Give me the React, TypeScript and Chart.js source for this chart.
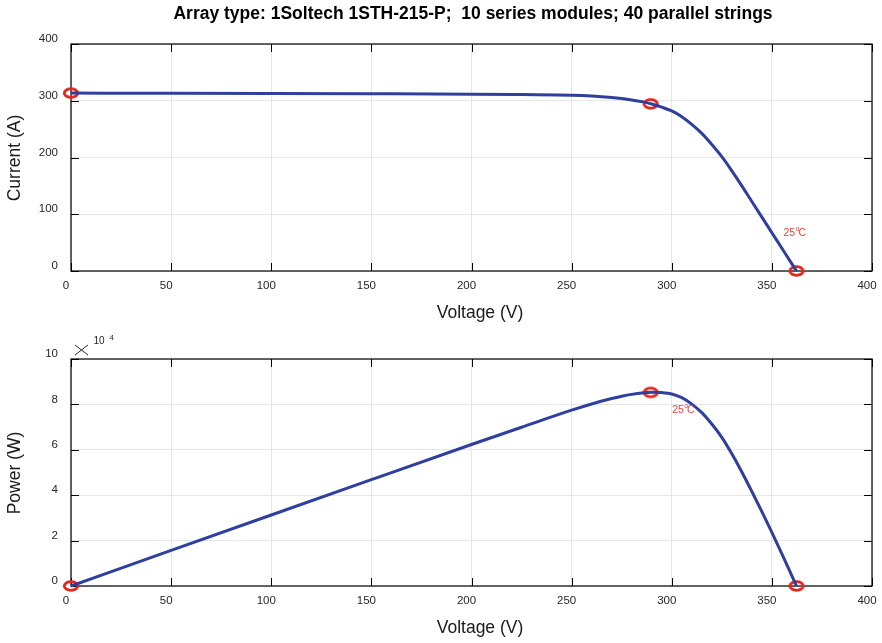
import React, { useEffect, useRef } from 'react';
import { Chart, registerables } from 'chart.js';
Chart.register(...registerables);

// ---- data ----
const voltage = [0, 50, 100, 150, 200, 225, 250, 260, 270, 275, 280, 285, 290, 295, 300, 305, 310, 315, 320, 325, 330, 335, 340, 345, 350, 355, 360, 362.3];
const current = [313.5, 313.2, 312.8, 312.3, 311.6, 310.8, 309.8, 308.4, 305.8, 303.9, 301.5, 298.5, 294.3, 288.8, 282, 272, 258.5, 242.5, 223, 201.5, 176.5, 150, 122.5, 95, 67.5, 40, 12.5, 0];
const power = [0, 15660, 31280, 46845, 62320, 69930, 77450, 80184, 82566, 83573, 84420, 85073, 85347, 85196, 84600, 82960, 80135, 76388, 71360, 65488, 58245, 50250, 41650, 32775, 23625, 14200, 4500, 0];

const markVoltage = [0, 289.5, 362.3];
const markCurrent = [313.5, 294.4, 0];
const markPower = [0, 85250, 0];

const xTicks = [0, 50, 100, 150, 200, 250, 300, 350, 400];
const currentTicks = [0, 100, 200, 300, 400];
const powerTicks = [0, 20000, 40000, 60000, 80000, 100000];

const titleText = 'Array type: 1Soltech 1STH-215-P;  10 series modules; 40 parallel strings';
const tempLabel = { v: '25', unit: 'C' };
const ivLabelAt = { x: 355.8, y: 66 };
const pvLabelAt = { x: 300.2, y: 77400 };

const FONT = '"Liberation Sans", Arial, Helvetica, sans-serif';
const LINE = '#2e3f9e';
const RED = '#e3261d';
const TXT_RED = '#ee4436';

function makeMarker(): HTMLCanvasElement {
  const c = document.createElement('canvas');
  c.width = 18;
  c.height = 14;
  const ctx = c.getContext('2d')!;
  ctx.strokeStyle = RED;
  ctx.lineWidth = 2.8;
  ctx.beginPath();
  ctx.ellipse(9, 7, 6.7, 4.3, 0, 0, Math.PI * 2);
  ctx.stroke();
  return c;
}

function drawTemp(ctx: CanvasRenderingContext2D, x: number, y: number) {
  ctx.save();
  ctx.fillStyle = TXT_RED;
  ctx.textBaseline = 'middle';
  ctx.textAlign = 'left';
  ctx.font = `10.5px ${FONT}`;
  ctx.fillText(tempLabel.v, x, y);
  let w = ctx.measureText(tempLabel.v).width;
  ctx.font = `7px ${FONT}`;
  ctx.fillText('o', x + w + 0.3, y - 4.5);
  w += ctx.measureText('o').width * 0.75;
  ctx.font = `10.5px ${FONT}`;
  ctx.fillText(tempLabel.unit, x + w + 0.3, y);
  ctx.restore();
}

function framePlugin(extra: (chart: any) => void) {
  return {
    id: 'matlabFrame',
    beforeDatasetsDraw(chart: any) {
      const { ctx, chartArea: a, scales } = chart;
      ctx.save();
      ctx.strokeStyle = '#000';
      ctx.lineWidth = 1.2;
      ctx.strokeRect(a.left, a.top, a.right - a.left, a.bottom - a.top);
      ctx.beginPath();
      const L = 8;
      scales.x.ticks.forEach((t: any) => {
        const px = Math.round(scales.x.getPixelForValue(t.value)) + 0.5;
        ctx.moveTo(px, a.bottom);
        ctx.lineTo(px, a.bottom - L);
        ctx.moveTo(px, a.top);
        ctx.lineTo(px, a.top + L);
      });
      scales.y.ticks.forEach((t: any) => {
        const py = Math.round(scales.y.getPixelForValue(t.value)) + 0.5;
        ctx.moveTo(a.left, py);
        ctx.lineTo(a.left + L, py);
        ctx.moveTo(a.right, py);
        ctx.lineTo(a.right - L, py);
      });
      ctx.lineWidth = 1;
      ctx.stroke();
      ctx.restore();
    },
    afterDraw(chart: any) {
      extra(chart);
    },
  };
}

function baseOptions(yMin: number, yMax: number, yTicks: number[], yFmt: (v: number) => string, padTop: number, xH: number) {
  const tickFont = { family: FONT, size: 11.5 };
  return {
    responsive: false,
    animation: false as const,
    devicePixelRatio: 1,
    layout: { padding: { left: 0, right: 10, top: padTop, bottom: 0 } },
    plugins: { legend: { display: false }, title: { display: false }, tooltip: { enabled: false } },
    scales: {
      x: {
        type: 'linear' as const,
        min: 0,
        max: 400,
        afterBuildTicks: (s: any) => { s.ticks = xTicks.map((v) => ({ value: v })); },
        afterFit: (s: any) => { s.height = xH; s.paddingLeft = 0; s.paddingRight = 0; },
        ticks: { font: tickFont, color: '#262626', padding: 8, labelOffset: -5, maxRotation: 0, autoSkip: false },
        grid: { color: '#e6e6e6', drawTicks: false, lineWidth: 1 },
        border: { display: false },
      },
      y: {
        type: 'linear' as const,
        min: yMin,
        max: yMax,
        afterBuildTicks: (s: any) => { s.ticks = yTicks.map((v) => ({ value: v })); },
        afterFit: (s: any) => { s.width = 71; s.paddingTop = 0; s.paddingBottom = 0; },
        ticks: { font: tickFont, color: '#262626', padding: 13, labelOffset: -5, callback: (v: any) => yFmt(Number(v)) },
        grid: { color: '#e6e6e6', drawTicks: false, lineWidth: 1 },
        border: { display: false },
      },
    },
  };
}

export default function App() {
  const topRef = useRef<HTMLCanvasElement>(null);
  const botRef = useRef<HTMLCanvasElement>(null);

  useEffect(() => {
    const marker = makeMarker();

    const ivCurve = voltage.map((v, i) => ({ x: v, y: current[i] }));
    const ivMarks = markVoltage.map((v, i) => ({ x: v, y: markCurrent[i] }));
    const pvCurve = voltage.map((v, i) => ({ x: v, y: power[i] }));
    const pvMarks = markVoltage.map((v, i) => ({ x: v, y: markPower[i] }));

    const topChart = new Chart(topRef.current!, {
      type: 'line',
      data: {
        datasets: [
          { data: ivCurve, borderColor: LINE, borderWidth: 3, pointRadius: 0, cubicInterpolationMode: 'monotone', clip: false, fill: false } as any,
          { data: ivMarks, showLine: false, pointStyle: marker, pointRadius: 8, borderColor: RED, backgroundColor: 'transparent', clip: false } as any,
        ],
      },
      options: baseOptions(0, 400, currentTicks, (v) => String(v), 44, 59) as any,
      plugins: [
        framePlugin((chart: any) => {
          const { ctx, scales } = chart;
          ctx.save();
          ctx.fillStyle = '#000';
          ctx.textAlign = 'center';
          ctx.textBaseline = 'middle';
          ctx.font = `bold 17.5px ${FONT}`;
          ctx.fillText(titleText, 473, 14);
          ctx.fillStyle = '#1a1a1a';
          ctx.font = `17.5px ${FONT}`;
          ctx.fillText('Voltage (V)', 480, 313);
          ctx.translate(15, 158);
          ctx.rotate(-Math.PI / 2);
          ctx.fillText('Current (A)', 0, 0);
          ctx.restore();
          drawTemp(ctx, scales.x.getPixelForValue(ivLabelAt.x), scales.y.getPixelForValue(ivLabelAt.y));
        }),
      ],
    });

    const botChart = new Chart(botRef.current!, {
      type: 'line',
      data: {
        datasets: [
          { data: pvCurve, borderColor: LINE, borderWidth: 3, pointRadius: 0, cubicInterpolationMode: 'monotone', clip: false, fill: false } as any,
          { data: pvMarks, showLine: false, pointStyle: marker, pointRadius: 8, borderColor: RED, backgroundColor: 'transparent', clip: false } as any,
        ],
      },
      options: baseOptions(0, 100000, powerTicks, (v) => String(v / 10000), 29, 57) as any,
      plugins: [
        framePlugin((chart: any) => {
          const { ctx, scales } = chart;
          ctx.save();
          ctx.fillStyle = '#1a1a1a';
          ctx.textAlign = 'center';
          ctx.textBaseline = 'middle';
          ctx.font = `17.5px ${FONT}`;
          ctx.fillText('Voltage (V)', 480, 298);
          ctx.save();
          ctx.translate(15, 143);
          ctx.rotate(-Math.PI / 2);
          ctx.fillText('Power (W)', 0, 0);
          ctx.restore();
          // x10^4 exponent label
          ctx.strokeStyle = '#262626';
          ctx.lineWidth = 1;
          ctx.beginPath();
          ctx.moveTo(75, 15);
          ctx.lineTo(88, 25);
          ctx.moveTo(75, 25);
          ctx.lineTo(88, 15);
          ctx.stroke();
          ctx.fillStyle = '#262626';
          ctx.textAlign = 'left';
          ctx.font = `10px ${FONT}`;
          ctx.fillText('10', 93.5, 11.5);
          ctx.font = `8px ${FONT}`;
          ctx.fillText('4', 109.5, 8);
          ctx.restore();
          drawTemp(ctx, scales.x.getPixelForValue(pvLabelAt.x), scales.y.getPixelForValue(pvLabelAt.y));
        }),
      ],
    });

    return () => {
      topChart.destroy();
      botChart.destroy();
    };
  }, []);

  return (
    <div style={{ position: 'absolute', left: 0, top: 0, width: 882, height: 643, background: '#fff' }}>
      <canvas ref={topRef} width={882} height={330} style={{ position: 'absolute', left: 0, top: 0, display: 'block' }} />
      <canvas ref={botRef} width={882} height={313} style={{ position: 'absolute', left: 0, top: 330, display: 'block' }} />
    </div>
  );
}
